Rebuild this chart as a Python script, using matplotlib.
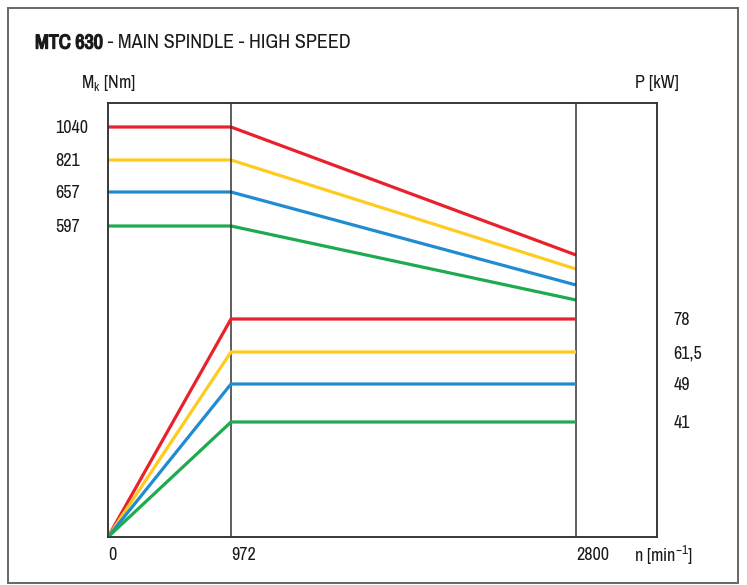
import matplotlib
matplotlib.use("Agg")
import matplotlib.pyplot as plt
import matplotlib.patheffects as pe
import numpy as np
from matplotlib.patches import Rectangle

plt.rcParams['font.family'] = ['Archivo Narrow', 'Roboto Condensed', 'DejaVu Sans']
plt.rcParams['mathtext.fontset'] = 'custom'
plt.rcParams['mathtext.rm'] = 'Archivo Narrow'
plt.rcParams['mathtext.it'] = 'Archivo Narrow'

# data
speed = [0, 972, 2800]
torque_red = [1040, 1040, 266]
torque_yellow = [821, 821, 210]
torque_blue = [657, 657, 167]
torque_green = [597, 597, 140]
power_red = [0, 78, 78]
power_yellow = [0, 61.5, 61.5]
power_blue = [0, 49, 49]
power_green = [0, 41, 41]
torque_ticks = [1040, 821, 657, 597]
power_ticks = [78, 61.5, 49, 41]
power_labels = ['78', '61,5', '49', '41']

# schematic (not to scale) axes: anchor values -> drawing positions
x_val = [0, 972, 2800, 3400]
x_pos = [0, 123, 468, 549]
tq_val = [0, 140, 167, 210, 266, 597, 657, 821, 1040, 1200]
tq_pos = [0, 237, 252, 268, 282, 311, 345, 377, 410, 434]
pw_val = [0, 41, 49, 61.5, 78, 120]
pw_pos = [0, 115, 153, 185, 218, 434]


def piecewise(vals, pos):
    fwd = lambda v: np.interp(v, vals, pos)
    inv = lambda p: np.interp(p, pos, vals)
    return fwd, inv


colors = ['#e8212b', '#ffcb1f', '#1e8bd3', '#1eaa4f']
dark = '#333333'
txt = '#1a1a1a'

fig = plt.figure(figsize=(7.47, 5.85), dpi=100)
W, H = 747, 585
ax = fig.add_axes([108 / W, (H - 537) / H, (657 - 108) / W, (537 - 103) / H])
ax.set_xscale('function', functions=piecewise(x_val, x_pos))
ax.set_yscale('function', functions=piecewise(tq_val, tq_pos))
ax.set_xlim(0, 3400)
ax.set_ylim(0, 1200)

ax2 = ax.twinx()
ax2.set_yscale('function', functions=piecewise(pw_val, pw_pos))
ax2.set_ylim(0, 120)

for t, c in zip([torque_red, torque_yellow, torque_blue, torque_green], colors):
    ax.plot(speed, t, color=c, lw=2.3, solid_capstyle='butt')
for p, c in zip([power_red, power_yellow, power_blue, power_green], colors):
    ax2.plot(speed, p, color=c, lw=2.3, solid_capstyle='butt')

for xv in speed[1:]:
    ax.axvline(xv, color=dark, lw=1.1)

for a in (ax, ax2):
    for s in a.spines.values():
        s.set_color(dark)
        s.set_linewidth(1.1)

ax.set_xticks(speed)
ax.set_xticklabels([str(v) for v in speed])
ax.set_yticks(torque_ticks)
ax.set_yticklabels([str(v) for v in torque_ticks])
ax.xaxis.set_minor_locator(matplotlib.ticker.NullLocator())
ax.yaxis.set_minor_locator(matplotlib.ticker.NullLocator())
ax.tick_params(axis='x', length=0, pad=7, labelsize=13, labelcolor=txt)
ax.tick_params(axis='y', length=0, pad=38, labelsize=13, labelcolor=txt)
for lab in ax.get_xticklabels():
    lab.set_ha('left')
for lab in ax.get_yticklabels():
    lab.set_ha('left')

ax2.set_yticks(power_ticks)
ax2.set_yticklabels(power_labels)
ax2.yaxis.set_minor_locator(matplotlib.ticker.NullLocator())
ax2.tick_params(axis='y', length=0, pad=12, labelsize=13, labelcolor=txt)

# axis titles
fig.text(108 / W, 1 - 83 / H, r'M$_\mathrm{k}$ [Nm]', ha='center', va='center', fontsize=13, color=txt)
fig.text(657 / W, 1 - 83 / H, 'P [kW]', ha='center', va='center', fontsize=13, color=txt)
fig.text(663 / W, 1 - 555 / H, r'n [min$^{-1}$]', ha='center', va='center', fontsize=13, color=txt)

# title: bold model name (stroked, narrow bold face missing) followed by normal text
t1 = fig.text(35 / W, 1 - 43 / H, 'MTC 630', fontsize=14.5, va='center', color=txt,
              path_effects=[pe.withStroke(linewidth=1.0, foreground=txt)])
fig.canvas.draw()
ax.annotate(' - MAIN SPINDLE - HIGH SPEED', xy=(1, 0.5), xycoords=t1, va='center',
            fontsize=14.5, color=txt, annotation_clip=False)

# outer frame
fig.patches.append(Rectangle((8 / W, 2 / H), 730 / W, 575 / H, transform=fig.transFigure,
                             fill=False, edgecolor='#666666', lw=1.4))

fig.savefig('out.png', dpi=100)
